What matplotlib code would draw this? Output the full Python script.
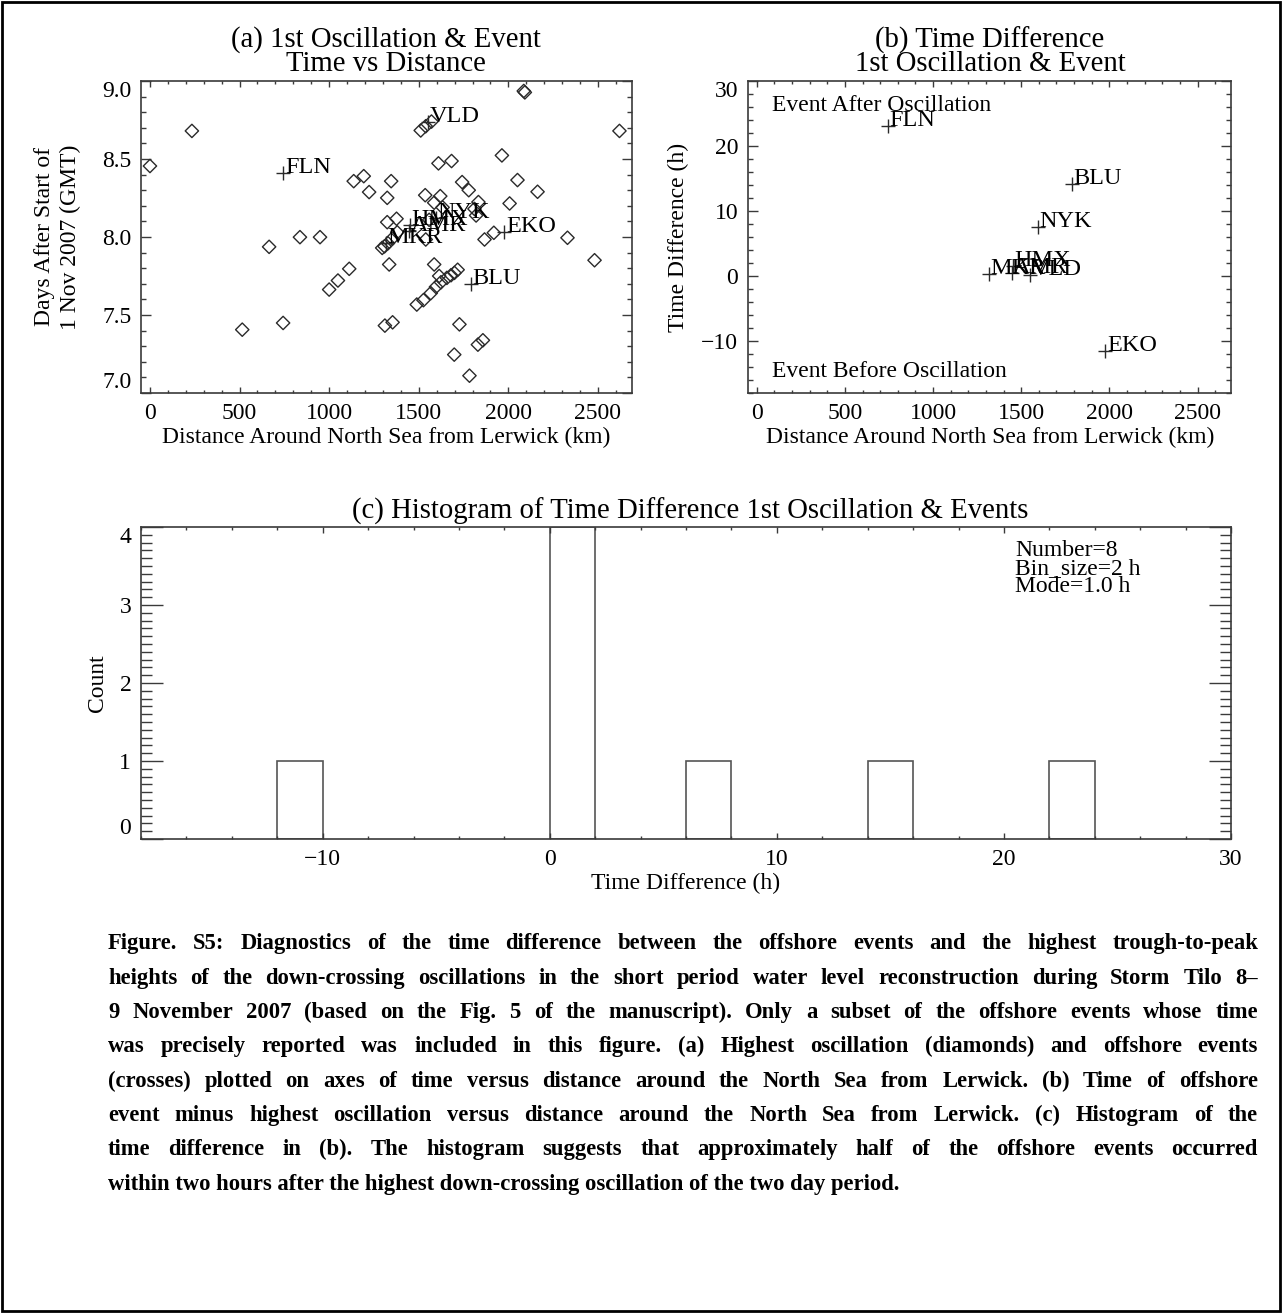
import numpy as np
import matplotlib.pyplot as plt
from matplotlib.patches import Rectangle
from matplotlib.ticker import MultipleLocator, FormatStrFormatter

# highest oscillations (diamonds): distance (km), time (days after 1 Nov 2007)
osc_km = [0, 234, 2086, 2092, 2620, 1511, 1539, 1571, 1964, 1610, 1683, 1137, 1193,
          1346, 1223, 1324, 1742, 1779, 2051, 2163, 1536, 1620, 1833, 1820, 2007,
          1324, 1376, 1867, 1919, 2330, 2481, 837, 949, 665, 1296, 1309, 1328, 1352,
          1380, 1539, 1112, 1049, 1000, 1335, 1586, 1717, 1699, 1680, 1657, 1624,
          1614, 1596, 1567, 1526, 1489, 1311, 1354, 743, 515, 1727, 1830, 1858,
          1698, 1783, 1586, 1633, 1811, 1558]
osc_day = [8.455, 8.68, 8.936, 8.927, 8.68, 8.683, 8.71, 8.74, 8.523, 8.472, 8.487,
           8.358, 8.39, 8.358, 8.288, 8.251, 8.352, 8.30, 8.365, 8.29, 8.268, 8.262,
           8.224, 8.138, 8.215, 8.095, 8.117, 7.984, 8.027, 7.995, 7.851, 7.999,
           7.999, 7.937, 7.93, 7.94, 7.96, 7.99, 8.03, 7.984, 7.796, 7.721, 7.663,
           7.824, 7.824, 7.79, 7.77, 7.755, 7.738, 7.71, 7.75, 7.68, 7.64, 7.595,
           7.567, 7.432, 7.453, 7.449, 7.406, 7.44, 7.31, 7.338, 7.246, 7.111,
           8.22, 8.19, 8.18, 8.11]

# offshore events (crosses)
event_names = ['FLN', 'BLU', 'NYK', 'EKO', 'MKR', 'AMR', 'HMX', 'VLD']
event_km = [745, 1790, 1597, 1978, 1318, 1446, 1452, 1552]
event_day = [8.41, 7.70, 8.12, 8.03, 7.96, 8.04, 8.08, 8.74]
event_diff_h = [23.1, 14.2, 7.6, -11.6, 0.35, 0.4, 1.6, 0.2]

bin_size = 2
bins = np.arange(-18, 30 + bin_size, bin_size)

W, H = 1282, 1313
plt.rcParams['font.family'] = ['Liberation Serif', 'DejaVu Serif']
plt.rcParams['axes.unicode_minus'] = True
fig = plt.figure(figsize=(W / 100, H / 100), dpi=100)

frame_col = '#3a3a3a'
mark_col = '#2a2a2a'
title_fs = 20.7
label_fs = 17
tick_fs = 17
name_fs = 17.5
note_fs = 17


def px_axes(l, t, r, b):
    return fig.add_axes([l / W, 1 - b / H, (r - l) / W, (b - t) / H])


def ft(x, y, s, **kw):
    return fig.text(x / W, 1 - y / H, s, **kw)


def style(ax, xmaj, xmin, ymaj, ymin, xlen, ylen):
    for sp in ax.spines.values():
        sp.set_color(frame_col)
        sp.set_linewidth(1.2)
    ax.xaxis.set_major_locator(MultipleLocator(xmaj))
    ax.xaxis.set_minor_locator(MultipleLocator(xmin))
    ax.yaxis.set_major_locator(MultipleLocator(ymaj))
    ax.yaxis.set_minor_locator(MultipleLocator(ymin))
    ax.tick_params(which='both', direction='in', top=True, right=True,
                   color=frame_col, width=1.0, labelsize=tick_fs, labelcolor='black')
    ax.tick_params(axis='x', which='major', length=xlen, pad=7)
    ax.tick_params(axis='x', which='minor', length=xlen / 2)
    ax.tick_params(axis='y', which='major', length=ylen, pad=7)
    ax.tick_params(axis='y', which='minor', length=ylen / 2)


# (a) time vs distance
ax_a = px_axes(141, 81, 632, 393)
ax_a.scatter(osc_km, osc_day, marker='D', s=46, facecolors='none',
             edgecolors=mark_col, linewidths=1.0, zorder=3)
ax_a.scatter(event_km, event_day, marker='+', s=110, color=mark_col,
             linewidths=1.0, zorder=4)
for n, x, y in zip(event_names, event_km, event_day):
    ax_a.annotate(n, (x, y), xytext=(1, 0), textcoords='offset points',
                  fontsize=name_fs, ha='left', va='baseline', zorder=5)
ax_a.set_xlim(-50, 2690)
ax_a.set_ylim(7.0, 9.0)
style(ax_a, 500, 100, 0.5, 0.1, 4.5, 7)
ax_a.yaxis.set_major_formatter(FormatStrFormatter('%.1f'))
ft(386, 40, '(a) 1st Oscillation & Event', fontsize=title_fs, ha='center', va='center')
ft(386, 64, 'Time vs Distance', fontsize=title_fs, ha='center', va='center')
ft(386, 437, 'Distance Around North Sea from Lerwick (km)', fontsize=label_fs,
   ha='center', va='center')
ft(45, 237, 'Days After Start of', fontsize=label_fs, rotation=90, ha='center', va='center')
ft(70, 237, '1 Nov 2007 (GMT)', fontsize=label_fs, rotation=90, ha='center', va='center')

# (b) time difference vs distance
ax_b = px_axes(748, 81, 1231, 393)
ax_b.scatter(event_km, event_diff_h, marker='+', s=110, color=mark_col,
             linewidths=1.0, zorder=4)
for n, x, y in zip(event_names, event_km, event_diff_h):
    ax_b.annotate(n, (x, y), xytext=(1, 0), textcoords='offset points',
                  fontsize=name_fs, ha='left', va='baseline', zorder=5)
ax_b.set_xlim(-50, 2690)
ax_b.set_ylim(-18, 30)
style(ax_b, 500, 100, 10, 2, 4.5, 7)
ft(990, 40, '(b) Time Difference', fontsize=title_fs, ha='center', va='center')
ft(990, 64, '1st Oscillation & Event', fontsize=title_fs, ha='center', va='center')
ft(990, 437, 'Distance Around North Sea from Lerwick (km)', fontsize=label_fs,
   ha='center', va='center')
ft(678, 237, 'Time Difference (h)', fontsize=label_fs, rotation=90, ha='center', va='center')
ft(772, 111, 'Event After Oscillation', fontsize=note_fs, ha='left', va='baseline')
ft(772, 377, 'Event Before Oscillation', fontsize=note_fs, ha='left', va='baseline')

# (c) histogram
ax_c = px_axes(141, 527, 1231, 839)
counts, edges = np.histogram(event_diff_h, bins=bins)
for c, e0 in zip(counts, edges[:-1]):
    if c > 0:
        ax_c.bar(e0, c, width=bin_size, align='edge', fill=False,
                 edgecolor='#555555', linewidth=1.2)
ax_c.set_xlim(-18, 30)
ax_c.set_ylim(0, 4)
style(ax_c, 10, 2, 1, 0.1, 4.5, 15.5)
mode = edges[np.argmax(counts)] + bin_size / 2
ft(1015, 556, 'Number=%d' % len(event_diff_h), fontsize=note_fs, ha='left', va='baseline')
ft(1015, 574, 'Bin_size=%d h' % bin_size, fontsize=note_fs, ha='left', va='baseline')
ft(1015, 592, 'Mode=%.1f h' % mode, fontsize=note_fs, ha='left', va='baseline')
ft(690, 511, '(c) Histogram of Time Difference 1st Oscillation & Events',
   fontsize=title_fs, ha='center', va='center')
ft(686, 883, 'Time Difference (h)', fontsize=label_fs, ha='center', va='center')
ft(97, 683, 'Count', fontsize=label_fs, rotation=90, ha='center', va='center')

# caption, justified
caption = [
    'Figure. S5:  Diagnostics of the time difference between the offshore events and the highest trough-to-peak',
    'heights of the down-crossing oscillations in the short period water level reconstruction during Storm Tilo 8\u2013',
    '9 November 2007 (based on the Fig. 5 of the manuscript).  Only a subset of the offshore events whose time',
    'was precisely reported was included in this figure.  (a)  Highest oscillation (diamonds) and offshore events',
    '(crosses) plotted on axes of time versus distance around the North Sea from Lerwick. (b) Time of offshore',
    'event minus highest oscillation versus distance around the North Sea from Lerwick.  (c) Histogram of the',
    'time difference in (b).  The histogram suggests that approximately half of the offshore events occurred',
    'within two hours after the highest down-crossing oscillation of the two day period.',
]
cap_left, cap_right = 108, 1258
cap_base = [949, 984, 1018, 1052, 1087, 1121, 1155, 1190]
cap_kw = dict(fontsize=16.3, fontweight='bold', ha='left', va='baseline')
renderer = fig.canvas.get_renderer()
for i, (line, yb) in enumerate(zip(caption, cap_base)):
    if i == len(caption) - 1:
        ft(cap_left, yb, line, **cap_kw)
        continue
    words = line.split()
    objs = [ft(cap_left, yb, w, **cap_kw) for w in words]
    widths = [o.get_window_extent(renderer).width for o in objs]
    gap = (cap_right - cap_left - sum(widths)) / (len(words) - 1)
    x = cap_left
    for o, w in zip(objs, widths):
        o.set_x(x / W)
        x += w + gap

fig.add_artist(Rectangle((0.0015, 0.0015), 0.997, 0.997, transform=fig.transFigure,
                         fill=False, edgecolor='black', linewidth=2))

# keep end labels of the y axes inside the frame, as in the original
fig.canvas.draw()
for ax in (ax_a, ax_b, ax_c):
    lo, hi = ax.get_ylim()
    for tk in ax.yaxis.get_major_ticks():
        if abs(tk.get_loc() - hi) < 1e-6:
            tk.label1.set_va('top')
        elif abs(tk.get_loc() - lo) < 1e-6:
            tk.label1.set_va('bottom')

fig.savefig('out.png', dpi=100)
